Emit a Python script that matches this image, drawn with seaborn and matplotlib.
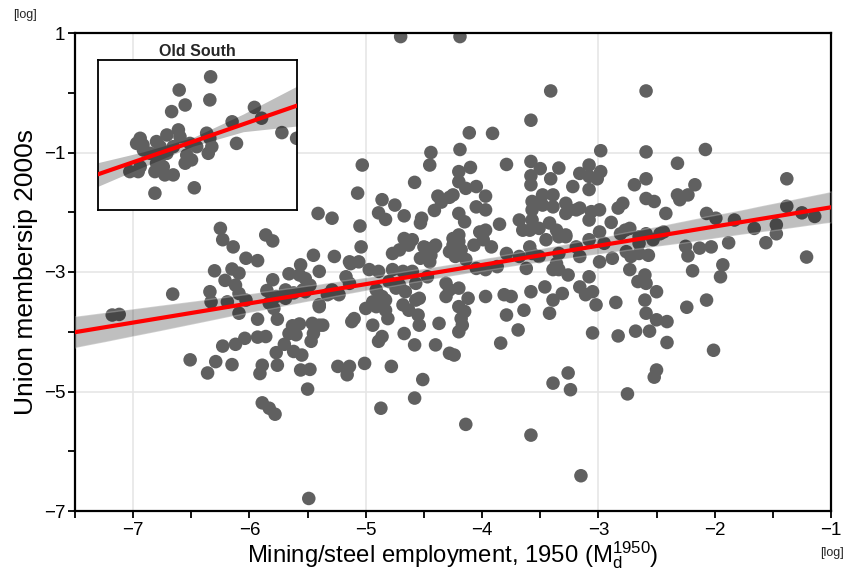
import numpy as np
import pandas as pd
import matplotlib
matplotlib.use("Agg")
import matplotlib.pyplot as plt
import seaborn as sns

# ---------------- data ----------------
mining_1950 = [
    -4.70, -4.19, -3.41, -3.58, -4.11, -3.91, -4.44, -4.19, -4.45, -5.03,
    -3.79, -3.58, -3.50, -3.34, -3.41, -3.58, -3.58, -3.16, -3.22, -4.58,
    -4.20, -4.10, -4.20, -4.14, -4.05, -3.97, -5.07, -4.86, -4.75, -5.41,
    -5.29, -4.89, -4.83, -5.05, -4.67, -4.52, -4.53, -4.41, -4.38, -4.28,
    -4.25, -4.20, -4.15, -4.05, -3.97, -4.02, -3.97, -3.85, -3.68, -3.65,
    -3.57, -3.48, -3.39, -3.57, -3.48, -3.39, -3.28, -3.28, -3.19, -3.57,
    -3.42, -3.36, -3.59, -3.51, -4.67, -4.60, -4.25, -4.20, -3.28,
    -2.59, -2.98, -2.59, -2.08, -2.32, -3.08, -2.98, -3.08, -3.01, -3.08,
    -2.59, -2.69, -2.17, -1.38, -2.59, -2.52, -2.32, -2.23, -2.30, -2.79,
    -2.83, -2.42, -2.89, -2.99, -2.77, -2.73, -2.07, -1.99, -1.83, -1.66,
    -1.47, -1.38, -1.25, -1.14, -2.59, -2.44, -3.16, -3.06, -2.99, -3.08,
    -3.25, -1.47,
    -2.13, -2.03, -1.88, -1.56, -1.93, -1.21,
    -2.25, -2.23, -2.19, -1.95, -2.07, -2.24, -2.01, -2.41, -2.50, -2.52,
    -2.75, -3.05, -2.83, -2.68, -2.56, -2.41, -2.50, -2.50, -2.60, -2.59,
    -2.60, -2.66, -2.59, -2.73, -2.85, -3.02, -3.05, -3.08, -3.16, -3.11,
    -3.26, -3.31, -3.34, -3.26, -3.24, -3.16, -2.99, -2.88, -2.72, -2.65,
    -2.57, -2.76, -2.95, -3.08, -3.19, -2.47, -2.65, -2.53, -3.34,
    -2.81, -2.65, -3.28,
    -3.34, -3.45, -4.50, -4.41, -4.20, -3.99, -4.07, -3.92, -3.59, -4.35,
    -4.25, -4.18, -4.40, -4.48, -4.44, -4.53, -4.45, -4.63, -4.71, -4.77,
    -5.04, -4.28, -4.23, -4.14, -4.05, -3.97, -3.87, -3.79, -5.14, -5.06,
    -4.97, -4.89, -4.77, -4.68, -4.60, -4.47, -4.80, -4.71, -4.57, -4.31,
    -4.28, -4.20, -4.91, -4.86, -4.54, -4.31, -4.12, -4.20, -4.15, -3.97,
    -3.81, -3.79, -5.00, -4.91, -4.83, -4.81, -4.68, -4.63, -4.55, -5.10,
    -4.94, -4.54, -4.18, -4.17,
    -5.27, -5.40, -5.13, -4.74, -4.66, -4.57, -4.83, -4.94, -5.12, -5.40,
    -4.67, -4.58, -4.86, -4.89, -4.40, -4.28, -4.24, -4.20, -3.75, -3.58,
    -3.69, -3.64, -3.84, -3.42, -3.39, -3.46, -3.39, -3.36, -3.51, -3.62,
    -3.57, -3.68, -5.24, -5.14, -5.16, -5.01, -4.78, -4.51, -4.58, -4.87,
    -4.14, -3.39,
    -7.18, -7.12, -6.66, -6.51, -6.36, -6.29, -6.23, -6.15, -6.12, -6.04,
    -6.34, -6.33, -6.30, -6.25, -6.23, -6.14, -6.15, -6.21, -6.09, -6.12,
    -6.09, -6.19, -6.09, -6.03, -5.93, -6.03, -5.86, -5.80, -5.93, -5.86,
    -5.93, -5.80, -5.85, -5.83, -5.76, -5.89, -5.91, -5.76, -5.77, -5.70,
    -5.66, -5.63, -5.57, -5.62, -5.55, -5.56, -5.48, -5.50, -5.60, -5.46,
    -5.45, -5.37, -5.47, -5.66, -5.56, -5.52, -5.45, -5.52, -5.62, -5.40,
    -5.30, -5.89, -5.83, -5.78, -5.69, -5.77,
    -5.79, -5.69, -5.57, -5.54, -5.48, -5.40, -5.29, -5.33, -5.23, -5.17,
    -5.14,
    -5.49, -3.58, -3.15, -4.37,
]
union_2000s = [
    0.94, 0.94, 0.03, -0.46, -0.67, -0.68, -1.00, -0.95, -1.21, -1.21,
    -1.20, -1.15, -1.27, -1.26, -1.44, -1.39, -1.54, -1.35, -1.57, -1.50,
    -1.32, -1.25, -1.49, -1.60, -1.57, -1.73, -1.68, -1.79, -1.88, -2.02,
    -2.10, -2.01, -2.12, -2.23, -2.06, -2.10, -2.18, -1.97, -1.73, -1.75,
    -1.71, -2.02, -2.16, -1.91, -1.96, -2.33, -2.30, -2.20, -2.13, -2.30,
    -1.82, -1.71, -1.71, -1.96, -1.88, -1.91, -1.85, -2.02, -1.96, -2.13,
    -2.18, -2.30, -2.30, -2.27, -2.44, -2.46, -2.44, -2.38, -2.41,
    0.03, -0.97, -0.99, -0.95, -1.18, -1.21, -1.32, -1.40, -1.44, -1.62,
    -1.44, -1.54, -1.54, -1.44, -1.77, -1.82, -1.71, -1.71, -1.79, -1.85,
    -1.93, -2.02, -2.17, -2.33, -2.30, -2.27, -2.02, -2.10, -2.13, -2.27,
    -2.21, -1.90, -2.01, -2.07, -2.36, -2.33, -1.93, -1.99, -1.96, -2.13,
    -1.96, -2.36,
    -2.60, -2.58, -2.51, -2.51, -2.88, -2.75,
    -2.57, -2.73, -2.98, -3.08, -3.47, -3.59, -4.31, -4.18, -4.64, -4.76,
    -5.04, -4.02, -4.07, -3.99, -3.99, -3.83, -3.80, -3.33, -3.47, -3.69,
    -3.05, -3.16, -3.19, -2.96, -3.51, -3.55, -3.33, -3.08, -3.25, -3.38,
    -3.05, -3.36, -2.96, -4.69, -4.97, -2.74, -2.83, -2.77, -2.74, -2.69,
    -2.72, -2.66, -2.52, -2.46, -2.58, -2.36, -2.41, -2.46, -2.69,
    -2.36, -2.52, -2.38,
    -2.41, -2.46, -2.58, -2.58, -2.49, -2.46, -2.55, -2.58, -2.58, -1.83,
    -2.55, -2.63, -2.55, -2.60, -2.72, -2.77, -2.83, -2.55, -2.63, -2.69,
    -2.58, -2.66, -2.74, -2.79, -2.94, -2.96, -2.91, -2.69, -2.83, -2.83,
    -2.96, -2.99, -2.96, -2.99, -2.99, -3.08, -3.16, -3.22, -3.19, -3.19,
    -3.30, -3.27, -3.30, -3.41, -3.44, -3.41, -3.44, -3.58, -3.66, -3.41,
    -3.38, -3.72, -3.61, -3.58, -3.64, -3.78, -3.55, -3.64, -3.72, -3.78,
    -3.89, -3.89, -3.78, -3.89,
    -2.74, -2.99, -2.86, -3.27, -3.33, -3.47, -3.47, -3.50, -3.83, -3.89,
    -4.03, -4.22, -4.08, -4.16, -4.22, -4.36, -4.39, -4.00, -3.41, -3.33,
    -3.97, -3.64, -4.19, -3.69, -3.47, -3.25, -2.96, -2.86, -2.74, -2.94,
    -2.69, -2.74, -4.58, -4.58, -4.72, -4.53, -4.58, -4.80, -5.11, -5.28,
    -5.55, -4.86,
    -3.72, -3.71, -3.37, -4.47, -4.69, -4.50, -4.24, -4.55, -4.21, -4.11,
    -3.33, -3.50, -2.98, -2.27, -2.46, -2.58, -2.95, -3.14, -3.02, -3.22,
    -3.36, -3.50, -3.69, -2.77, -2.81, -3.47, -2.38, -2.48, -3.79, -4.08,
    -4.09, -3.13, -3.31, -3.52, -3.79, -4.56, -4.70, -4.56, -4.35, -4.21,
    -4.03, -3.90, -3.87, -4.33, -4.39, -4.64, -4.63, -4.96, -4.05, -3.86,
    -4.03, -3.89, -4.16, -3.03, -2.88, -3.11, -2.72, -3.33, -3.35, -3.55,
    -3.35, -5.19, -5.28, -5.38, -3.44, -3.41,
    -3.61, -3.30, -3.05, -3.30, -3.22, -3.58, -3.30, -3.38, -3.38, -3.08,
    -3.19,
    -6.79, -5.73, -6.41, -3.86,
]

# Old South subset (inset)
south_mining = [
    -3.67, -4.46, -3.69, -4.31, -4.65, -2.57, -2.39, -3.13, -1.88, -1.51,
    -3.02, -5.44, -5.53, -5.03, -4.77, -4.48, -4.44, -4.19, -4.02, -3.77,
    -3.69, -3.64, -3.73, -5.36, -5.19, -4.94, -4.77, -4.61, -4.27, -4.15,
    -4.31, -5.03, -4.86, -5.07, -4.82, -4.61, -5.70, -5.49, -5.44, -5.07,
    -4.08, -5.37, -4.94,
]
south_union = [
    -0.06, -0.50, -0.83, -1.00, -1.22, -1.08, -1.44, -1.56, -1.92, -2.11,
    -2.28, -2.11, -2.28, -2.22, -2.00, -1.83, -2.06, -2.28, -2.39, -1.94,
    -2.11, -2.39, -2.61, -2.50, -2.61, -2.72, -2.61, -2.39, -2.67, -2.83,
    -2.94, -2.94, -3.06, -3.22, -3.33, -3.33, -3.22, -3.22, -3.06, -3.94,
    -3.76, -2.33, -2.39,
]
# Old South fitted line and its confidence band
south_fit_x = [-6.50, -5.36, -4.11, -2.85, -1.50]
south_fit_y = [-3.31, -2.79, -2.22, -1.64, -1.02]
south_ci_lo = [-3.71, -3.06, -2.37, -1.89, -1.70]
south_ci_hi = [-2.92, -2.56, -2.08, -1.30, -0.37]

x_ticks = [-7, -6, -5, -4, -3, -2, -1]
x_minor = [-7.5, -6.5, -5.5, -4.5, -3.5, -2.5, -1.5]
y_ticks = [1, -1, -3, -5, -7]
y_minor = [0, -2, -4, -6]

df = pd.DataFrame({"mining": mining_1950, "union": union_2000s})
south = pd.DataFrame({"mining": south_mining, "union": south_union})
south_fit = pd.DataFrame({"mining": south_fit_x, "fit": south_fit_y,
                          "lo": south_ci_lo, "hi": south_ci_hi})

# ---------------- style ----------------
sns.set_theme(style="white")
plt.rcParams["font.family"] = ["Liberation Sans", "DejaVu Sans"]
plt.rcParams["mathtext.fontset"] = "custom"
plt.rcParams["mathtext.rm"] = "Liberation Sans"

POINT = "#606060"
fig = plt.figure(figsize=(8.48, 5.73), dpi=100)
ax = fig.add_axes([75 / 848, 1 - 511 / 573, (831 - 75) / 848, (511 - 33) / 573])

ax.set_xlim(-7.5, -1)
ax.set_ylim(-7, 1)

for gx in [-7, -5, -3]:
    ax.axvline(gx, color="#e6e6e6", lw=1.2, zorder=0)
for gy in [-1, -3, -5]:
    ax.axhline(gy, color="#e6e6e6", lw=1.2, zorder=0)

sns.scatterplot(data=df, x="mining", y="union", ax=ax, s=95, color=POINT,
                edgecolor="none", linewidth=0, zorder=2, legend=False)
sns.regplot(data=df, x="mining", y="union", ax=ax, scatter=False,
            truncate=False, color="black", ci=95, n_boot=1000, seed=1,
            line_kws=dict(color="red", lw=3.0, zorder=4))
for coll in ax.collections[1:]:
    coll.set_facecolor("#000000")
    coll.set_alpha(0.25)
    coll.set_zorder(3)

ax.set_xticks(x_ticks)
ax.set_xticks(x_minor, minor=True)
ax.set_yticks(y_ticks)
ax.set_yticks(y_minor, minor=True)
ax.tick_params(axis="both", which="both", direction="out", length=5, width=1.3,
               color="black", labelsize=13.5, labelcolor="black",
               bottom=True, left=True)
ax.tick_params(axis="x", pad=3)
ax.tick_params(axis="y", pad=2)
for sp in ax.spines.values():
    sp.set_color("black")
    sp.set_linewidth(1.6)

ax.set_xlabel(r"Mining/steel employment, 1950 ($\mathregular{M_d^{1950}}$)",
              fontsize=17.2, color="black", labelpad=0)
ax.set_ylabel("Union membersip 2000s", fontsize=19, color="black", labelpad=4)

fig.text(25 / 848, 1 - 15 / 573, "[log]", fontsize=9, ha="center", va="center")
fig.text(832 / 848, 1 - 553 / 573, "[log]", fontsize=9, ha="center", va="center")

# ---------------- inset: Old South ----------------
ins = fig.add_axes([98 / 848, 1 - 210 / 573, 199 / 848, 150 / 573])
ins.set_xlim(-6.5, -1.5)
ins.set_ylim(-4.5, 0.5)
sns.scatterplot(data=south, x="mining", y="union", ax=ins, s=95, color=POINT,
                edgecolor="none", linewidth=0, zorder=2, legend=False)
ins.fill_between(south_fit["mining"], south_fit["lo"], south_fit["hi"],
                 color="#000000", alpha=0.25, linewidth=0, zorder=3)
sns.lineplot(data=south_fit, x="mining", y="fit", ax=ins, color="red",
             lw=3.0, zorder=4, legend=False)
ins.set_xticks([])
ins.set_yticks([])
ins.set_xlabel("")
ins.set_ylabel("")
for sp in ins.spines.values():
    sp.set_color("black")
    sp.set_linewidth(1.3)
ins.set_title("Old South", fontsize=11.5, fontweight="bold", pad=3)

fig.savefig("out.png", dpi=100)
